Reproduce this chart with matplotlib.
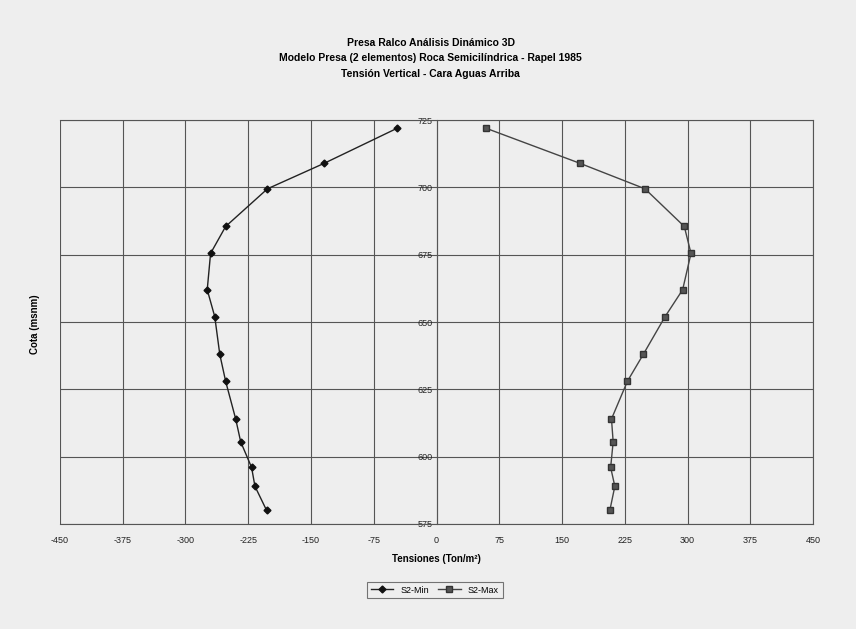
import numpy as np
import matplotlib.pyplot as plt

plt.rcParams['font.family'] = ['Liberation Sans', 'DejaVu Sans']
plt.rcParams['axes.unicode_minus'] = False

# cotas (msnm) y tensiones (Ton/m2)
cota = [722, 709, 699.5, 685.5, 675.5, 662, 652, 638, 628, 614, 605.5, 596, 589, 580]
s2_min = [-47, -134, -202, -252, -270, -274, -265, -259, -252, -240, -234, -221, -217, -203]
s2_max = [59, 171, 249, 296, 304, 294, 273, 247, 228, 209, 211, 208, 213, 207]

x_ticks = np.arange(-450, 451, 75)
y_ticks = np.arange(575, 726, 25)

bg = '#eeeeee'
fig = plt.figure(figsize=(8.56, 6.29), dpi=100, facecolor=bg)
ax = fig.add_axes([0.070, 0.167, 0.880, 0.642], facecolor=bg)

ax.plot(s2_min, cota, color='#222222', lw=1.0, marker='D', ms=3.5,
        mfc='#111111', mec='#111111', label='S2-Min')
ax.plot(s2_max, cota, color='#444444', lw=1.0, marker='s', ms=4.3,
        mfc='#555555', mec='#333333', label='S2-Max')

ax.set_xlim(-450, 450)
ax.set_ylim(575, 725)
ax.set_xticks(x_ticks)
ax.set_yticks(y_ticks)
ax.grid(True, color='#555555', lw=0.8)
ax.set_axisbelow(True)

ax.spines['left'].set_position(('data', 0))
for s in ['top', 'right', 'bottom', 'left']:
    ax.spines[s].set_color('#555555')
    ax.spines[s].set_linewidth(0.8)
ax.axvline(-450, color='#555555', lw=1.2)
ax.tick_params(axis='both', labelsize=6.5, length=0, colors='#222222')
ax.tick_params(axis='x', pad=9)
ax.tick_params(axis='y', pad=3)

ax.set_xlabel('Tensiones (Ton/m²)', fontsize=7, fontweight='bold', labelpad=6)
fig.text(0.041, 0.485, 'Cota (msnm)', rotation=90, fontsize=7, fontweight='bold',
         ha='center', va='center')

fig.text(0.503, 0.907, 'Presa Ralco Análisis Dinámico 3D\n'
         'Modelo Presa (2 elementos) Roca Semicilíndrica - Rapel 1985\n'
         'Tensión Vertical - Cara Aguas Arriba',
         ha='center', va='center', fontsize=7.5, fontweight='bold', linespacing=1.7)

leg = fig.legend(loc='center', bbox_to_anchor=(0.508, 0.062), ncol=2, fontsize=6.5,
                 frameon=True, fancybox=False, edgecolor='#555555', facecolor=bg,
                 handlelength=2.5, columnspacing=1.0, borderpad=0.4)
leg.get_frame().set_linewidth(0.8)

fig.savefig('out.png', dpi=100, facecolor=bg)
